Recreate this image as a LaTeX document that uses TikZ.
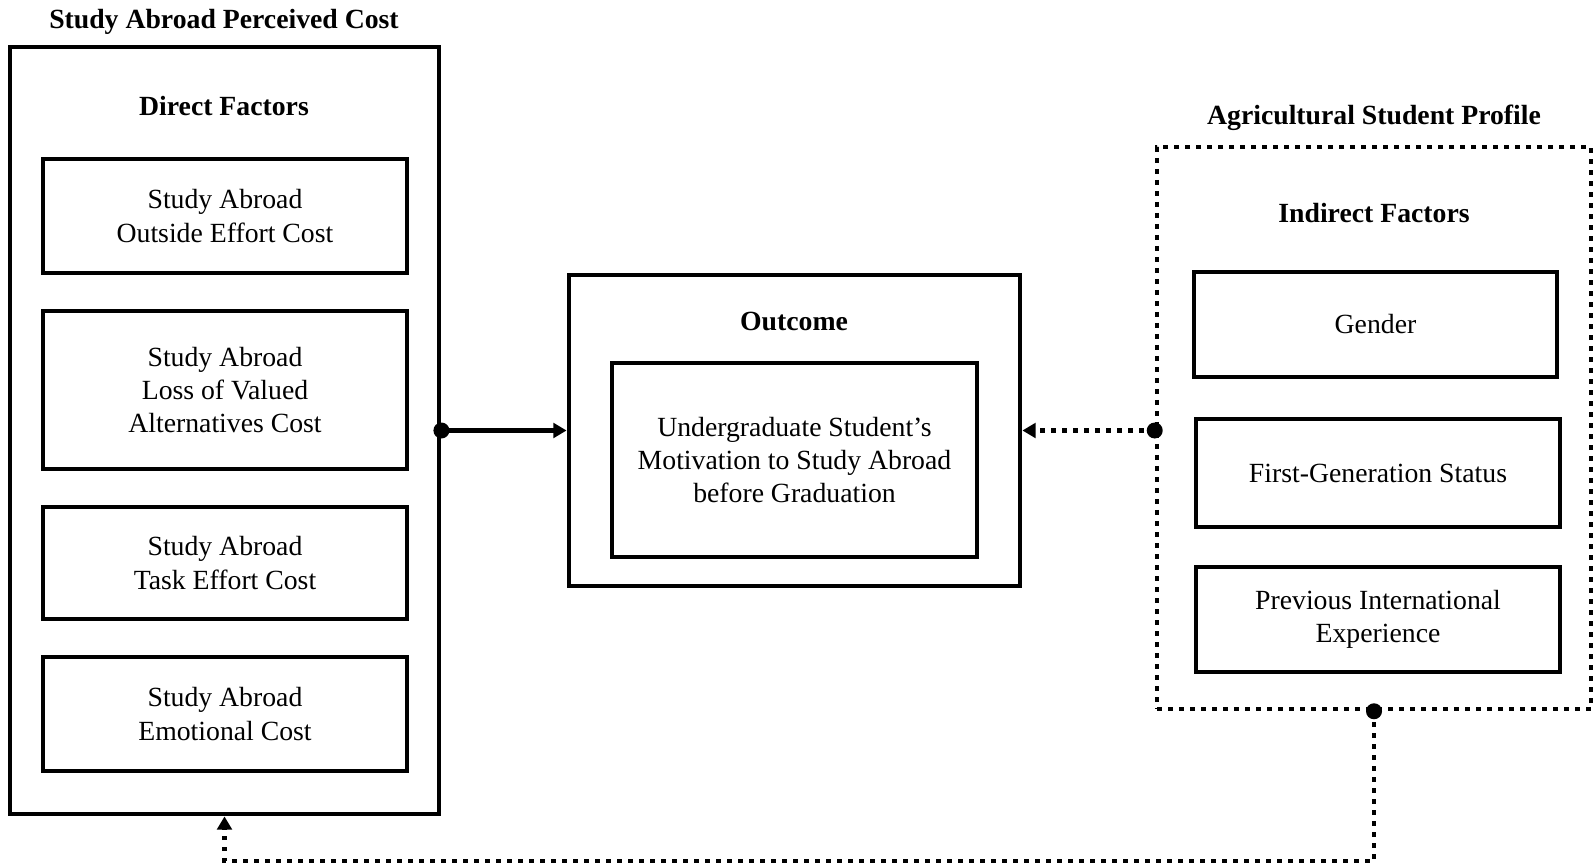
\documentclass[tikz,border=0pt]{standalone}
\usepackage{fontspec}
\setmainfont{Liberation Serif}
\usetikzlibrary{arrows.meta,calc}

\begin{document}
\begin{tikzpicture}[x=0.75pt,y=-0.75pt,
  every node/.style={font=\fontsize{20.8}{25}\selectfont},
  size/.style 2 args={minimum width=#1*0.75pt,minimum height=#2*0.75pt},
  box/.style={draw,line width=3.6pt,rectangle,align=center,inner sep=0pt},
  dotbox/.style={draw,line width=3.4pt,rectangle,dash pattern=on 3.4pt off 4.85pt},
  heading/.style={font=\fontsize{20.8}{25}\selectfont\bfseries},
  solidlink/.style={line width=3.6pt,-{Triangle[length=10pt,width=11pt]}},
  dotlink/.style={line width=3.4pt,dash pattern=on 3.4pt off 4.85pt,-{Triangle[length=10pt,width=11pt]}},
  joint/.style={fill=black}]
\useasboundingbox (0,0) rectangle (1595,866);

% Direct factors (left)
\node[box,size={429}{767}] (left) at (224.5,430.5) {};
\node[heading] (lefttitle) at (224,22) {Study Abroad Perceived Cost};
\node[heading] (direct) at (224,106) {Direct Factors};
\node[box,size={364}{114}] (b1) at (225,216) {Study Abroad\\Outside Effort Cost};
\node[box,size={364}{158}] (b2) at (225,390) {Study Abroad\\Loss of Valued\\Alternatives Cost};
\node[box,size={364}{112}] (b3) at (225,563) {Study Abroad\\Task Effort Cost};
\node[box,size={364}{114}] (b4) at (225,714) {Study Abroad\\Emotional Cost};

% Outcome (centre)
\node[box,size={451}{311}] (outcome) at (794.5,430.5) {};
\node[heading] (outtitle) at (794,321) {Outcome};
\node[box,size={365}{194}] (motiv) at (794.5,460) {Undergraduate Student’s\\Motivation to Study Abroad\\before Graduation};

% Indirect factors (right)
\node[dotbox,size={434}{562}] (right) at (1374,428) {};
\node[heading] (righttitle) at (1374,118) {Agricultural Student Profile};
\node[heading] (indirect) at (1374,213) {Indirect Factors};
\node[box,size={363}{105}] (gender) at (1375.5,324.5) {Gender};
\node[box,size={364}{108}] (firstgen) at (1378,473) {First-Generation Status};
\node[box,size={364}{105}] (prev) at (1378,619.5) {Previous International\\Experience};

% Connectors
\coordinate (rjoin) at (right.west |- outcome.west);
\coordinate (bottom) at (0,861);
\draw[solidlink] (left.east |- outcome.west) -- (outcome.west);
\fill[joint] (left.east |- outcome.west) circle (6pt);
\draw[dotlink] (rjoin) -- (outcome.east);
\fill[joint] (rjoin) circle (6pt);
\draw[dotlink] (right.south) -- (right.south |- bottom) -| (left.south);
\fill[joint] (right.south) circle (6pt);
\end{tikzpicture}
\end{document}
